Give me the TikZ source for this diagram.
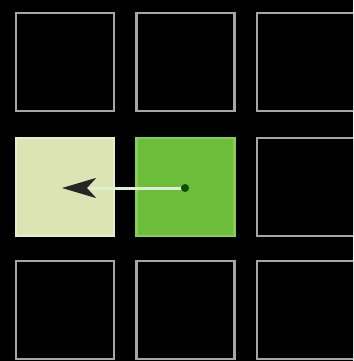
\documentclass[tikz,border=0pt]{standalone}
\usetikzlibrary{arrows.meta}
\definecolor{bordergray}{HTML}{A6A6A6}
\definecolor{paleleaf}{HTML}{DCE4B4}
\definecolor{paleedge}{HTML}{E8ECCB}
\definecolor{brightleaf}{HTML}{6CBD3A}
\definecolor{brightedge}{HTML}{86CC58}
\definecolor{dotgreen}{HTML}{0B4F0B}
\definecolor{shaft}{HTML}{DDEFD0}
\begin{document}
\begin{tikzpicture}[x=1pt,y=-1pt,
  cell/.style={draw=bordergray, line width=2.6pt, minimum size=98pt, inner sep=0pt, fill=black},
  palecell/.style={cell, fill=paleleaf, draw=paleedge},
  brightcell/.style={cell, fill=brightleaf, draw=brightedge},
  marker/.style={circle, fill=dotgreen, inner sep=0pt, minimum size=8pt}]
\useasboundingbox (0,0) rectangle (353,361);
\fill[black] (0,0) rectangle (353,361);
\clip (0,0) rectangle (353,361);
\node[cell] (a1) at (65,62) {};
\node[cell] (a2) at (185.5,62) {};
\node[cell] (a3) at (306,62) {};
\node[palecell] (b1) at (65,187) {};
\node[brightcell] (b2) at (185.5,187) {};
\node[cell] (b3) at (306,187) {};
\node[cell] (c1) at (65,310) {};
\node[cell] (c2) at (185.5,310) {};
\node[cell] (c3) at (306,310) {};
\node[marker] (d) at (185,188) {};
\coordinate (t) at (62,188);
\draw[shaft, line width=3pt, -{Stealth[length=34pt,width=20pt,inset=9pt,color=black!85]}] (d) -- (t);
\end{tikzpicture}
\end{document}
